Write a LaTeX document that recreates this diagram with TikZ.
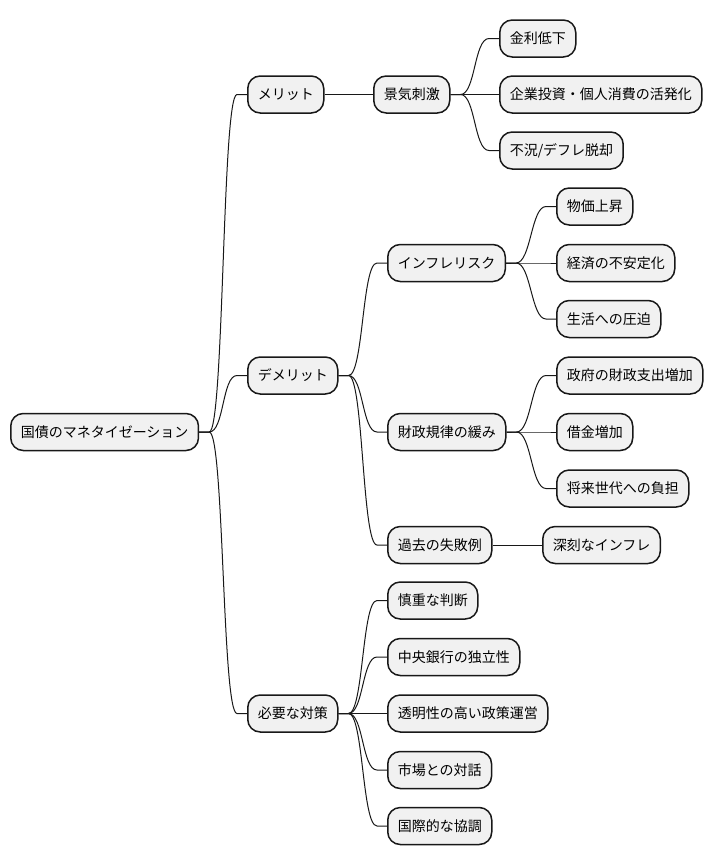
\documentclass[tikz,border=0pt]{standalone}
\usepackage{fontspec}
\setmainfont{Noto Sans CJK JP}
\usetikzlibrary{calc}
\definecolor{boxfill}{HTML}{F1F1F1}
\definecolor{boxline}{HTML}{181818}
\tikzset{
  mmbox/.style={draw=boxline, fill=boxfill, line width=1.5pt, rounded corners=12.5pt,
    minimum height=37pt, inner xsep=10pt, inner ysep=0pt, anchor=west,
    font=\fontsize{14pt}{16pt}\selectfont, text=black},
  mmedge/.style={draw=boxline, line width=1pt},
}
\newcommand{\curvedge}[2]{\draw[mmedge] (#1.east) -- ++(10,0) .. controls +(15,0) and +(-15,0) .. ($(#2.west)+(-10,0)$) -- (#2.west);}
\begin{document}
\begin{tikzpicture}[x=1pt,y=-1pt]
\useasboundingbox (0,0) rectangle (712,865);
\node[mmbox] (root) at (10,432) {国債のマネタイゼーション};
\node[mmbox] (meri) at (247,94.5) {メリット};
\node[mmbox] (keiki) at (373,94.5) {景気刺激};
\node[mmbox] (kinri) at (499,38.5) {金利低下};
\node[mmbox] (kigyo) at (499,94.5) {企業投資・個人消費の活発化};
\node[mmbox] (fukyo) at (499,150.5) {不況/デフレ脱却};
\node[mmbox] (deme) at (247,375.5) {デメリット};
\node[mmbox] (infl) at (387,263) {インフレリスク};
\node[mmbox] (bukka) at (556,206.5) {物価上昇};
\node[mmbox] (keizai) at (556,263) {経済の不安定化};
\node[mmbox] (seikatsu) at (556,319) {生活への圧迫};
\node[mmbox] (zaisei) at (387,432) {財政規律の緩み};
\node[mmbox] (seifu) at (556,375.5) {政府の財政支出増加};
\node[mmbox] (shakkin) at (556,432) {借金増加};
\node[mmbox] (shorai) at (556,488.5) {将来世代への負担};
\node[mmbox] (kako) at (387,545) {過去の失敗例};
\node[mmbox] (shinkoku) at (542,545) {深刻なインフレ};
\node[mmbox] (hitsuyo) at (247,713.5) {必要な対策};
\node[mmbox] (shincho) at (387,600.5) {慎重な判断};
\node[mmbox] (chuo) at (387,657) {中央銀行の独立性};
\node[mmbox] (tomei) at (387,713.5) {透明性の高い政策運営};
\node[mmbox] (shijo) at (387,770) {市場との対話};
\node[mmbox] (kokusai) at (387,826) {国際的な協調};
\curvedge{root}{meri}
\curvedge{root}{deme}
\curvedge{root}{hitsuyo}
\draw[mmedge] (meri.east) -- (keiki.west);
\curvedge{keiki}{kinri}
\curvedge{keiki}{kigyo}
\curvedge{keiki}{fukyo}
\curvedge{deme}{infl}
\curvedge{deme}{zaisei}
\curvedge{deme}{kako}
\curvedge{infl}{bukka}
\curvedge{infl}{keizai}
\curvedge{infl}{seikatsu}
\curvedge{zaisei}{seifu}
\curvedge{zaisei}{shakkin}
\curvedge{zaisei}{shorai}
\draw[mmedge] (kako.east) -- (shinkoku.west);
\curvedge{hitsuyo}{shincho}
\curvedge{hitsuyo}{chuo}
\curvedge{hitsuyo}{tomei}
\curvedge{hitsuyo}{shijo}
\curvedge{hitsuyo}{kokusai}
\end{tikzpicture}
\end{document}
